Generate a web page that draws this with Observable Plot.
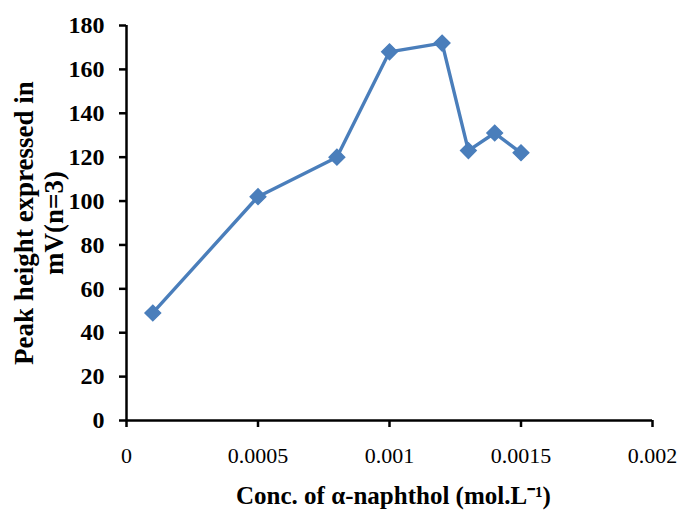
<!DOCTYPE html>
<html>
<head>
<meta charset="utf-8">
<script src="https://cdn.jsdelivr.net/npm/d3@7"></script>
<script src="https://cdn.jsdelivr.net/npm/@observablehq/plot@0.6"></script>
<style>
  html, body { margin: 0; padding: 0; background: #fff; }
  svg { display: block; }
</style>
</head>
<body>
<div id="chart"></div>
<script>
const conc = [0.0001, 0.0005, 0.0008, 0.001, 0.0012, 0.0013, 0.0014, 0.0015];
const peak = [49, 102, 120, 168, 172, 123, 131, 122];
const xTicks = [0, 0.0005, 0.001, 0.0015, 0.002];
const yTicks = [0, 20, 40, 60, 80, 100, 120, 140, 160, 180];
const xTitle = "Conc. of \u03b1-naphthol (mol.L\u207b\u00b9)";
const yTitle = "Peak height expressed in\nmV(n=3)";

const data = conc.map((c, i) => ({c, p: peak[i]}));
const blue = "#4a7ebb";

const chart = Plot.plot({
  width: 679,
  height: 514,
  marginLeft: 126,
  marginRight: 27,
  marginTop: 25,
  marginBottom: 94,
  style: {fontFamily: "'Liberation Serif', 'Times New Roman', serif", background: "#fff", color: "#000"},
  x: {domain: [0, 0.002]},
  y: {domain: [0, 180]},
  marks: [
    Plot.axisY({ticks: yTicks, tickSize: 7, tickPadding: 15, strokeWidth: 2.5, fontSize: 24, fontWeight: "bold", label: null, tickFormat: d => String(d)}),
    Plot.axisX({ticks: xTicks, tickSize: 7, tickPadding: 20, strokeWidth: 2.5, fontSize: 22, label: null, tickFormat: d => String(d)}),
    Plot.ruleX([0], {stroke: "#000", strokeWidth: 2.5}),
    Plot.ruleY([0], {stroke: "#000", strokeWidth: 2.5}),
    Plot.line(data, {x: "c", y: "p", stroke: blue, strokeWidth: 3.4}),
    Plot.dot(data, {x: "c", y: "p", symbol: "diamond2", r: 7, fill: blue, stroke: blue}),
    Plot.text([yTitle], {frameAnchor: "left", rotate: -90, dx: -88, fontSize: 27, fontWeight: "bold", lineHeight: 1.12, textAnchor: "middle", lineAnchor: "middle", fill: "#000"}),
    Plot.text([xTitle], {frameAnchor: "bottom", dy: 75, fontSize: 25, fontWeight: "bold", textAnchor: "middle", lineAnchor: "middle", fill: "#000", dx: 4})
  ]
});
document.getElementById("chart").appendChild(chart);
</script>
</body>
</html>
